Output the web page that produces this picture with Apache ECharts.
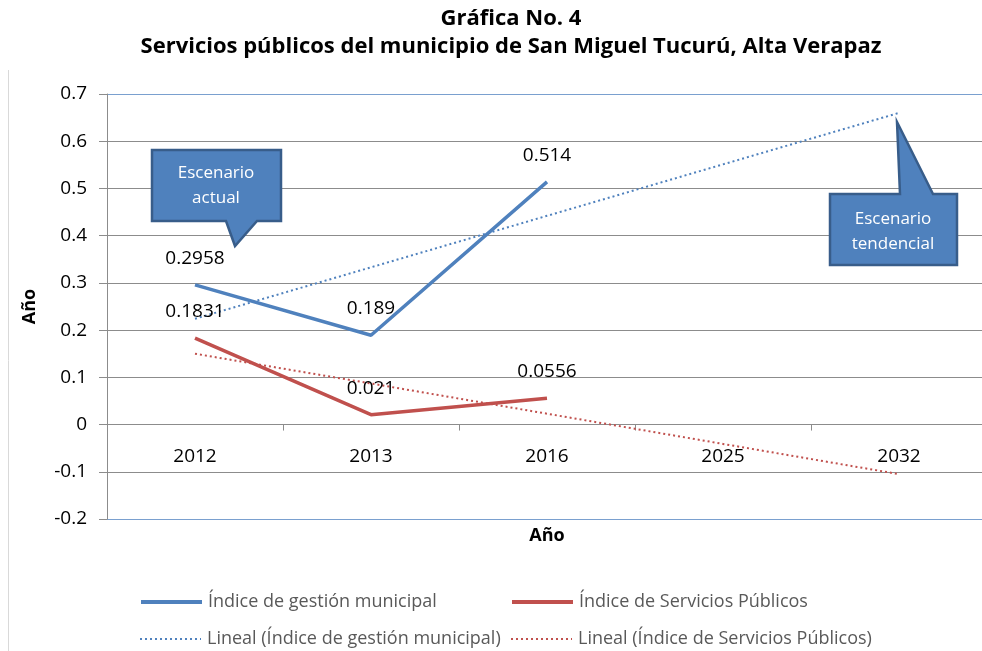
<!DOCTYPE html>
<html>
<head>
<meta charset="utf-8">
<script src="https://cdn.jsdelivr.net/npm/echarts@6/dist/echarts.min.js"></script>
<style>
  html, body { margin: 0; padding: 0; background: #fff; overflow: hidden; }
  /* el área de trazado sigue más allá del borde derecho, como en la imagen */
  #chart { width: 992px; height: 651px; }
</style>
</head>
<body>
<div id="chart"></div>
<script>
  // años del eje x
  var years = ['2012', '2013', '2016', '2025', '2032'];
  // índices observados
  var gestionMunicipal = [0.2958, 0.189, 0.514, null, null];
  var serviciosPublicos = [0.1831, 0.021, 0.0556, null, null];
  // líneas de tendencia (lineal)
  var linealGestion = [0.224, 0.333, 0.442, 0.551, 0.660];
  var linealServicios = [0.150, 0.087, 0.023, -0.041, -0.105];
  var yTicks = [-0.2, -0.1, 0, 0.1, 0.2, 0.3, 0.4, 0.5, 0.6, 0.7];

  var FONT = 'Open Sans';
  var GRAY = '#8c8c8c';
  var BLUE = '#4f81bd';
  var RED = '#c0504d';

  var names = [
    'Índice de gestión municipal',
    'Índice de Servicios Públicos',
    'Lineal (Índice de gestión municipal)',
    'Lineal (Índice de Servicios Públicos)'
  ];

  var chart = echarts.init(document.getElementById('chart'));

  var splitColors = yTicks.map(function (v, i) {
    return (i === 0 || i === yTicks.length - 1) ? '#7aa0cf' : GRAY;
  });

  function legendAt(name, left, top, w) {
    return {
      data: [name],
      left: left,
      top: top,
      padding: 0,
      itemWidth: 61,
      itemHeight: 10,
      itemGap: 0,
      itemStyle: { opacity: 0 },
      lineStyle: { width: w },
      textStyle: { fontFamily: FONT, fontSize: 18, color: '#595959', padding: [0, 0, 0, 1] },
      selectedMode: false
    };
  }

  // globo de texto (rectángulo con punta)
  function callout(x1, y1, x2, y2, tip, lines, textX, textY) {
    var pts;
    if (tip.side === 'bottom') {
      pts = [[x1, y1], [x2, y1], [x2, y2], [tip.b2, y2], [tip.x, tip.y], [tip.b1, y2], [x1, y2]];
    } else {
      pts = [[x1, y1], [tip.b1, y1], [tip.x, tip.y], [tip.b2, y1], [x2, y1], [x2, y2], [x1, y2]];
    }
    return [{
      type: 'polygon',
      shape: { points: pts },
      style: { fill: BLUE, stroke: '#385d8a', lineWidth: 2.5, lineJoin: 'miter' },
      z: 100
    }, {
      type: 'text',
      x: textX,
      y: textY,
      style: {
        text: lines,
        fill: '#fff',
        font: '17px ' + FONT,
        align: 'center',
        verticalAlign: 'middle',
        lineHeight: 25
      },
      z: 101
    }];
  }

  var graphics = [{
    type: 'line',
    shape: { x1: 8.5, y1: 70, x2: 8.5, y2: 651 },
    style: { stroke: '#d9d9d9', lineWidth: 1 }
  }].concat(
    callout(152, 150, 281, 221, { side: 'bottom', b1: 226, b2: 257, x: 235, y: 246 },
      'Escenario\nactual', 216, 186),
    callout(830, 194, 957, 265, { side: 'top', b1: 900, b2: 933, x: 897, y: 122 },
      'Escenario\ntendencial', 893, 232)
  );

  var labelStyle = {
    show: true,
    position: 'top',
    distance: 17,
    fontFamily: FONT,
    fontSize: 19,
    color: '#000'
  };

  chart.setOption({
    animation: false,
    title: {
      text: 'Gráfica No. 4\nServicios públicos del municipio de San Miguel Tucurú, Alta Verapaz',
      left: 511,
      textAlign: 'center',
      top: 5,
      padding: 0,
      textStyle: { fontFamily: FONT, fontSize: 22, fontWeight: 'bold', color: '#000', lineHeight: 28 }
    },
    legend: [
      legendAt(names[0], 139, 593, 4),
      legendAt(names[1], 510, 593, 4),
      legendAt(names[2], 139, 630, 2),
      legendAt(names[3], 510, 630, 2)
    ],
    grid: { left: 107, right: 5, top: 94, bottom: 132, containLabel: false },
    xAxis: [{
      type: 'category',
      data: years,
      name: 'Año',
      nameLocation: 'middle',
      nameGap: 8,
      nameTextStyle: { fontFamily: FONT, fontSize: 18, fontWeight: 'bold', color: '#000' },
      axisLine: { onZero: true, lineStyle: { color: GRAY, width: 1 } },
      axisTick: { show: true, length: 6, lineStyle: { color: GRAY } },
      axisLabel: { show: false }
    }, {
      // etiquetas de los años junto a la línea del cero
      type: 'category',
      data: years,
      position: 'bottom',
      offset: -94.5,
      axisLine: { show: false },
      axisTick: { show: false },
      axisLabel: { fontFamily: FONT, fontSize: 19, color: '#000', margin: 23 }
    }],
    yAxis: {
      type: 'value',
      min: -0.2,
      max: 0.7,
      interval: 0.1,
      name: 'Año',
      nameLocation: 'middle',
      nameGap: 68,
      nameRotate: 90,
      nameTextStyle: { fontFamily: FONT, fontSize: 18, fontWeight: 'bold', color: '#000' },
      axisLine: { show: true, lineStyle: { color: GRAY } },
      axisTick: { show: true, length: 8, lineStyle: { color: GRAY } },
      axisLabel: {
        fontFamily: FONT, fontSize: 19, color: '#000', margin: 20,
        formatter: function (v) { return String(Math.round(v * 10) / 10); }
      },
      splitLine: { show: true, lineStyle: { color: splitColors, width: 1 } }
    },
    series: [{
      name: names[0],
      type: 'line',
      data: gestionMunicipal,
      symbol: 'circle',
      symbolSize: 0,
      lineStyle: { color: BLUE, width: 3.5 },
      itemStyle: { color: BLUE },
      label: labelStyle,
      z: 5
    }, {
      name: names[1],
      type: 'line',
      data: serviciosPublicos,
      symbol: 'circle',
      symbolSize: 0,
      lineStyle: { color: RED, width: 3.5 },
      itemStyle: { color: RED },
      label: labelStyle,
      z: 5
    }, {
      name: names[2],
      type: 'line',
      data: linealGestion,
      symbol: 'none',
      lineStyle: { color: BLUE, width: 2, type: [2, 3] },
      itemStyle: { color: BLUE },
      z: 3
    }, {
      name: names[3],
      type: 'line',
      data: linealServicios,
      symbol: 'none',
      lineStyle: { color: RED, width: 2, type: [2, 3] },
      itemStyle: { color: RED },
      z: 3
    }],
    graphic: graphics
  });
</script>
</body>
</html>
